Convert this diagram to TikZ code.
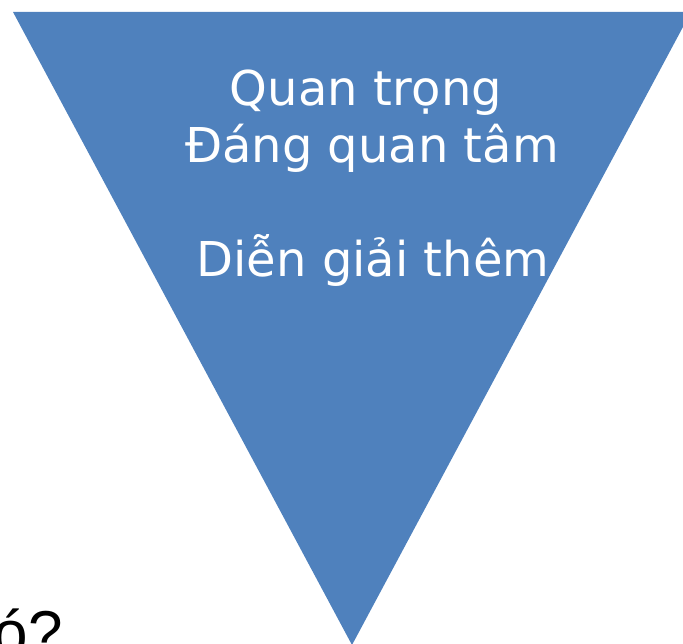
\documentclass[tikz,border=0pt]{standalone}
\usepackage{fontspec}
\setmainfont{DejaVu Sans}
\newfontfamily\arialfont{Liberation Sans}
\definecolor{funnelblue}{HTML}{4F81BD}
\begin{document}
\begin{tikzpicture}[x=1pt, y=-1pt,
  label/.style = {text=white, font=\fontsize{48}{57}\selectfont, inner sep=0pt, anchor=base}]
\useasboundingbox (0,0) rectangle (683,644);
\clip (0,0) rectangle (683,644);
\fill[funnelblue] (13,12) -- (691,12) -- (352,645) -- cycle;

\node[label] (quan) at (366,106) {Quan trọng};
\node[label] (dang) at (372,163) {Đáng quan tâm};
\node[label] (dien) at (373,277) {Diễn giải thêm};

\node[font=\arialfont\fontsize{62}{70}\selectfont, inner sep=0pt, anchor=base east] (cau) at (63,654) {ó?};
\end{tikzpicture}
\end{document}
